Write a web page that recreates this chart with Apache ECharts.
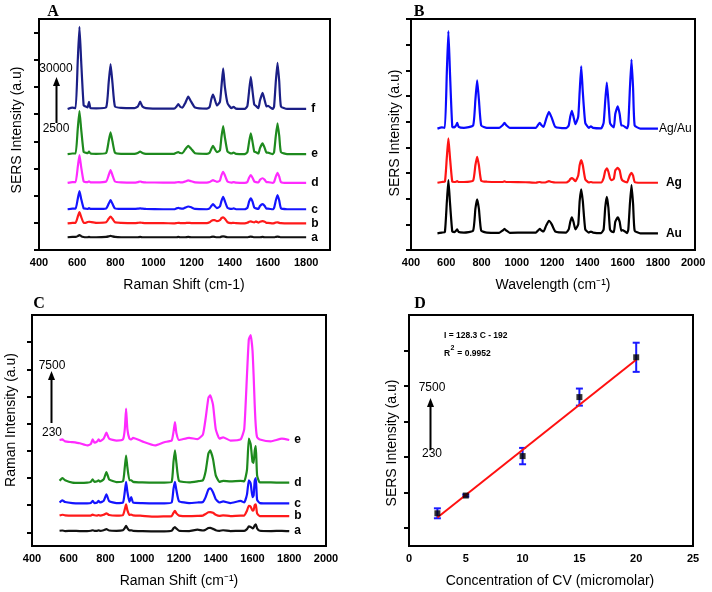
<!DOCTYPE html>
<html><head><meta charset="utf-8">
<script src="https://cdn.jsdelivr.net/npm/echarts@6/dist/echarts.min.js"></script>
<style>html,body{margin:0;padding:0;background:#fff}#c{width:712px;height:592px}</style>
</head><body><div id="c"></div>
<script>
// ---------- Panel A / B shared Raman shift grid (cm-1) ----------
const shiftAB = [550,575,592,603,612,621,634,645,655,662,670,700,752,765,775,785,798,830,900,918,930,942,960,1050,1108,1120,1130,1140,1152,1166,1182,1198,1218,1280,1294,1303,1312,1321,1332,1348,1356,1365,1374,1388,1408,1420,1432,1478,1492,1501,1510,1519,1528,1537,1550,1558,1572,1583,1592,1600,1625,1632,1641,1650,1659,1668,1700,1800];

// Panel A spectra (offset intensity units)
const specA_f = [5.19,5.24,5.22,6.95,8.21,6.95,5.32,5.28,5.25,5.45,5.22,5.21,5.25,6.15,6.84,6.15,5.28,5.23,5.22,5.28,5.46,5.28,5.22,5.2,5.2,5.27,5.37,5.27,5.24,5.4,5.64,5.45,5.24,5.2,5.26,5.55,5.72,5.55,5.32,5.45,6.0,6.68,6.0,5.4,5.22,5.27,5.2,5.19,5.3,5.85,6.37,5.85,5.35,5.3,5.22,5.5,5.78,5.5,5.28,5.3,5.19,5.28,6.2,6.89,6.2,5.28,5.19,5.19];
const specA_e = [3.53,3.55,3.55,4.45,5.11,4.45,3.6,3.58,3.56,3.62,3.55,3.54,3.57,4.0,4.33,4.0,3.58,3.54,3.54,3.57,3.62,3.57,3.54,3.54,3.54,3.58,3.6,3.57,3.56,3.7,3.83,3.72,3.56,3.54,3.58,3.72,3.83,3.72,3.6,3.66,4.15,4.56,4.15,3.62,3.55,3.58,3.54,3.53,3.6,3.98,4.29,3.98,3.62,3.6,3.55,3.75,3.92,3.75,3.58,3.58,3.53,3.6,4.2,4.66,4.2,3.6,3.53,3.53];
const specA_d = [2.47,2.5,2.5,3.05,3.49,3.05,2.52,2.5,2.5,2.53,2.49,2.49,2.52,2.75,2.94,2.75,2.52,2.49,2.48,2.5,2.52,2.5,2.49,2.48,2.48,2.49,2.5,2.49,2.49,2.52,2.56,2.53,2.49,2.48,2.5,2.54,2.57,2.54,2.51,2.55,2.75,2.88,2.75,2.52,2.48,2.5,2.48,2.47,2.5,2.66,2.76,2.66,2.52,2.5,2.49,2.58,2.64,2.58,2.5,2.5,2.47,2.5,2.7,2.84,2.7,2.5,2.47,2.47];
const specA_c = [1.5,1.52,1.52,1.88,2.17,1.88,1.53,1.52,1.51,1.54,1.51,1.51,1.53,1.7,1.84,1.7,1.53,1.51,1.51,1.52,1.53,1.52,1.51,1.5,1.5,1.53,1.55,1.53,1.52,1.56,1.6,1.57,1.51,1.5,1.53,1.62,1.69,1.62,1.54,1.6,1.8,1.96,1.8,1.55,1.51,1.53,1.5,1.5,1.55,1.78,1.9,1.78,1.56,1.53,1.51,1.62,1.69,1.62,1.52,1.52,1.5,1.55,1.82,2.02,1.82,1.54,1.5,1.5];
const specA_b = [0.98,1.0,1.0,1.22,1.39,1.22,1.0,1.0,1.03,1.04,1.03,1.0,1.02,1.15,1.23,1.15,1.02,1.0,0.99,1.0,1.01,1.0,0.99,0.99,0.98,0.99,1.0,0.99,0.99,0.99,1.0,0.99,0.99,0.99,1.02,1.07,1.1,1.1,1.06,1.1,1.17,1.2,1.15,1.02,0.99,1.0,0.99,0.98,1.0,1.04,1.05,1.03,1.02,1.05,1.01,1.04,1.06,1.04,1.0,1.0,0.98,0.99,1.01,1.02,1.0,0.99,0.98,0.98];
const specA_a = [0.47,0.48,0.48,0.51,0.55,0.51,0.48,0.47,0.47,0.48,0.47,0.47,0.48,0.5,0.52,0.5,0.48,0.47,0.47,0.47,0.48,0.47,0.47,0.47,0.47,0.47,0.48,0.47,0.47,0.47,0.48,0.47,0.47,0.47,0.47,0.48,0.49,0.48,0.47,0.47,0.49,0.5,0.49,0.47,0.47,0.47,0.47,0.47,0.47,0.48,0.49,0.48,0.47,0.47,0.47,0.47,0.48,0.47,0.47,0.47,0.47,0.47,0.48,0.49,0.48,0.47,0.47,0.47];

// Panel B spectra
const specB_AgAu = [4.73,4.78,4.76,6.9,8.53,6.9,4.8,4.78,4.85,4.95,4.8,4.76,4.85,5.85,6.61,5.85,4.85,4.76,4.76,4.85,4.95,4.85,4.76,4.76,4.76,4.87,4.95,4.86,4.8,5.1,5.38,5.15,4.8,4.75,4.85,5.2,5.42,5.2,4.9,5.2,6.15,7.16,6.15,4.95,4.76,4.82,4.76,4.74,4.95,5.8,6.52,5.8,4.95,4.85,4.78,5.3,5.6,5.3,4.85,4.85,4.74,4.9,6.3,7.42,6.3,4.85,4.73,4.73];
const specB_Ag = [2.62,2.65,2.66,3.6,4.35,3.6,2.66,2.65,2.66,2.68,2.65,2.65,2.7,3.3,3.63,3.3,2.7,2.66,2.65,2.65,2.67,2.65,2.65,2.64,2.62,2.64,2.65,2.63,2.63,2.64,2.68,2.65,2.63,2.63,2.68,2.76,2.8,2.76,2.68,2.9,3.3,3.5,3.3,2.75,2.63,2.65,2.63,2.63,2.8,3.08,3.18,3.05,2.8,2.72,2.78,3.1,3.2,3.1,2.8,2.7,2.63,2.75,2.92,3.01,2.9,2.65,2.62,2.62];
const specB_Au = [0.65,0.68,0.7,1.85,2.72,1.85,0.72,0.7,0.75,0.8,0.7,0.68,0.75,1.6,1.97,1.6,0.75,0.68,0.67,0.75,0.82,0.75,0.67,0.68,0.68,0.76,0.82,0.76,0.72,0.95,1.14,1.0,0.72,0.68,0.8,1.1,1.27,1.1,0.8,1.0,1.9,2.36,1.9,0.8,0.68,0.72,0.68,0.66,0.8,1.65,2.07,1.65,0.8,0.72,0.7,1.1,1.27,1.1,0.75,0.78,0.66,0.8,1.8,2.53,1.8,0.75,0.65,0.65];

// ---------- Panel C ----------
const shiftC = [550,565,580,620,660,700,720,730,740,755,762,770,790,805,820,860,895,905,912,919,930,940,950,1000,1070,1120,1160,1170,1178,1186,1200,1255,1300,1330,1345,1360,1370,1385,1400,1420,1440,1480,1535,1555,1570,1580,1590,1600,1606,1612,1618,1625,1640,1700,1760,1800];
const specC_e = [3.9,3.92,3.85,3.82,3.78,3.7,3.75,3.92,3.8,3.85,3.92,3.86,3.95,4.17,3.95,3.88,3.92,4.3,5.06,4.3,3.95,3.92,3.98,3.85,3.7,3.82,3.88,4.2,4.56,4.15,3.9,3.98,3.93,4.1,4.7,5.45,5.54,5.2,4.3,3.95,4.0,3.88,3.92,4.3,6.3,7.6,7.76,7.2,6.3,5.2,4.4,4.0,3.92,3.85,3.95,3.9];
const specC_d = [2.4,2.5,2.42,2.33,2.32,2.33,2.36,2.45,2.36,2.38,2.42,2.37,2.45,2.72,2.45,2.35,2.38,2.9,3.33,2.9,2.42,2.42,2.36,2.34,2.33,2.33,2.36,3.1,3.52,3.05,2.4,2.34,2.38,2.42,2.75,3.4,3.52,3.2,2.6,2.36,2.4,2.38,2.4,2.38,2.8,3.95,3.75,3.1,3.06,3.5,3.68,2.6,2.34,2.34,2.33,2.33];
const specC_c = [1.6,1.68,1.62,1.58,1.57,1.57,1.58,1.66,1.58,1.6,1.66,1.6,1.66,1.9,1.65,1.58,1.6,2.0,2.36,2.0,1.62,1.8,1.6,1.58,1.57,1.57,1.6,2.1,2.36,2.05,1.65,1.58,1.6,1.62,1.8,2.08,2.12,1.98,1.72,1.6,1.64,1.58,1.66,1.6,1.9,2.42,2.3,1.8,1.85,2.4,2.5,1.7,1.58,1.57,1.57,1.57];
const specC_b = [1.12,1.15,1.13,1.12,1.12,1.12,1.12,1.16,1.13,1.12,1.14,1.12,1.15,1.2,1.14,1.12,1.14,1.35,1.53,1.32,1.14,1.16,1.13,1.11,1.08,1.09,1.1,1.22,1.29,1.2,1.12,1.1,1.11,1.12,1.18,1.24,1.25,1.22,1.15,1.11,1.13,1.1,1.12,1.12,1.3,1.48,1.45,1.3,1.32,1.5,1.53,1.2,1.1,1.1,1.1,1.1];
const specC_a = [0.56,0.57,0.55,0.56,0.55,0.55,0.56,0.58,0.56,0.56,0.58,0.56,0.58,0.62,0.57,0.56,0.58,0.66,0.74,0.66,0.57,0.58,0.56,0.55,0.54,0.54,0.56,0.65,0.7,0.64,0.56,0.55,0.6,0.57,0.6,0.66,0.67,0.63,0.58,0.56,0.58,0.55,0.56,0.56,0.62,0.72,0.7,0.65,0.68,0.76,0.8,0.65,0.56,0.55,0.56,0.55];

// ---------- Panel D ----------
const concCV = [2.5, 5, 10, 15, 20];
const sersD = [0.92, 1.42, 2.53, 4.19, 5.31];
const errD = [0.14, 0.03, 0.23, 0.24, 0.41];
const fitC = [2.5, 20];
const fitI = [0.80, 5.24];

// tick values
const ticksXA = [400,600,800,1000,1200,1400,1600,1800];
const ticksXB = [400,600,800,1000,1200,1400,1600,1800,2000];
const ticksXD = [0,5,10,15,20,25];
const ticksYA = [0,1,2,3,4,5,6,7,8];
const ticksYB = [0,1,2,3,4,5,6,7,8,9];
const ticksYC = [0.5,1.5,2.5,3.5,4.5,5.5,6.5,7.5];
const ticksYD = [0.5,1.5,2.5,3.5,4.5,5.5];

const FONT = '"Liberation Sans", Arial, sans-serif';
const pair = (xs, ys) => xs.map((x, i) => [x, ys[i]]);

function xAxisCfg(gi, min, max, ticks) {
  return {
    type: 'value', gridIndex: gi, min, max, interval: ticks[1]-ticks[0],
    splitLine: {show: false},
    axisLine: {show: true, onZero: false, lineStyle: {color: '#000', width: 2}},
    axisTick: {show: false},
    axisLabel: {customValues: ticks, formatter: v => String(v), color: '#000', fontWeight: 'bold', fontSize: 11, fontFamily: FONT, margin: 7}
  };
}
function yAxisCfg(gi, min, max, ticks) {
  return {
    type: 'value', gridIndex: gi, min, max,
    splitLine: {show: false},
    axisLine: {show: true, onZero: false, lineStyle: {color: '#000', width: 2}},
    axisTick: {show: true, customValues: ticks, inside: false, length: 5, lineStyle: {color: '#000', width: 2}},
    axisLabel: {show: false}
  };
}
function spec(gi, xs, ys, color, label, lblStyle) {
  return {
    type: 'line', xAxisIndex: gi, yAxisIndex: gi, data: pair(xs, ys),
    showSymbol: false, symbol: 'none', smooth: 0.15, animation: false,
    lineStyle: {color, width: 2.2}, itemStyle: {color},
    endLabel: Object.assign({show: true, formatter: label, color: '#000', fontFamily: FONT, fontSize: 12, fontWeight: 'bold', distance: 5}, lblStyle || {})
  };
}

const grids = [
  {left: 39, top: 19, width: 291, height: 231},
  {left: 411, top: 19, width: 284, height: 231},
  {left: 32, top: 315, width: 294, height: 231},
  {left: 409, top: 315, width: 284, height: 231}
].map(g => Object.assign(g, {show: true, borderColor: '#000', borderWidth: 2, containLabel: false}));

const series = [
  spec(0, shiftAB, specA_f, '#1b1f86', 'f'),
  spec(0, shiftAB, specA_e, '#1e8a1e', 'e'),
  spec(0, shiftAB, specA_d, '#ff2bff', 'd'),
  spec(0, shiftAB, specA_c, '#1414ff', 'c'),
  spec(0, shiftAB, specA_b, '#ff1a1a', 'b'),
  spec(0, shiftAB, specA_a, '#111111', 'a'),
  spec(1, shiftAB, specB_AgAu, '#0a0aff', 'Ag/Au', {fontWeight: 'normal', distance: 1}),
  spec(1, shiftAB, specB_Ag, '#ff1414', 'Ag', {distance: 8}),
  spec(1, shiftAB, specB_Au, '#000000', 'Au', {distance: 8}),
  spec(2, shiftC, specC_e, '#ff2bff', 'e'),
  spec(2, shiftC, specC_d, '#1e8a1e', 'd'),
  spec(2, shiftC, specC_c, '#1414ff', 'c'),
  spec(2, shiftC, specC_b, '#ff1a1a', 'b'),
  spec(2, shiftC, specC_a, '#111111', 'a'),
  {
    type: 'line', xAxisIndex: 3, yAxisIndex: 3, data: pair(fitC, fitI),
    showSymbol: false, symbol: 'none', animation: false,
    lineStyle: {color: '#ff1010', width: 2}
  },
  {
    type: 'custom', xAxisIndex: 3, yAxisIndex: 3, animation: false,
    data: concCV.map((c, i) => [c, sersD[i], errD[i]]),
    renderItem: function (params, api) {
      const x = api.value(0), y = api.value(1), e = api.value(2);
      const top = api.coord([x, y + e]);
      const bot = api.coord([x, y - e]);
      const hw = 3.5;
      const st = {stroke: '#1a1aff', lineWidth: 2};
      return {type: 'group', children: [
        {type: 'line', shape: {x1: top[0], y1: top[1], x2: bot[0], y2: bot[1]}, style: st},
        {type: 'line', shape: {x1: top[0]-hw, y1: top[1], x2: top[0]+hw, y2: top[1]}, style: st},
        {type: 'line', shape: {x1: bot[0]-hw, y1: bot[1], x2: bot[0]+hw, y2: bot[1]}, style: st}
      ]};
    },
    z: 3
  },
  {
    type: 'scatter', xAxisIndex: 3, yAxisIndex: 3, animation: false,
    data: pair(concCV, sersD), symbol: 'rect', symbolSize: 6,
    itemStyle: {color: '#000'}, z: 4
  }
];

function txt(x, y, text, opts) {
  return {type: 'text', x, y, silent: true, rotation: (opts && opts.rot) || 0,
    style: Object.assign({text, align: 'center', verticalAlign: 'middle', fill: '#000', font: '14px ' + FONT}, (opts && opts.style) || {})};
}
function arrow(x, yTop, yBot) {
  return [
    {type: 'line', shape: {x1: x, y1: yBot, x2: x, y2: yTop + 6}, style: {stroke: '#000', lineWidth: 2}},
    {type: 'polygon', shape: {points: [[x, yTop], [x - 3.5, yTop + 9], [x + 3.5, yTop + 9]]}, style: {fill: '#000'}}
  ];
}
const SERIF = '"Liberation Serif", "Times New Roman", serif';
const graphics = [
  txt(53, 12, 'A', {style: {font: 'bold 16px ' + SERIF}}),
  txt(419, 12, 'B', {style: {font: 'bold 16px ' + SERIF}}),
  txt(39, 304, 'C', {style: {font: 'bold 16px ' + SERIF}}),
  txt(420, 304, 'D', {style: {font: 'bold 16px ' + SERIF}}),
  txt(17, 130, 'SERS Intensity (a.u)', {rot: Math.PI / 2}),
  txt(184, 285, 'Raman Shift (cm-1)'),
  txt(395, 133, 'SERS Intensity (a.u)', {rot: Math.PI / 2}),
  txt(553, 285, 'Wavelength (cm⁻¹)'),
  txt(11, 420, 'Raman Intensity (a.u)', {rot: Math.PI / 2}),
  txt(179, 581, 'Raman Shift (cm⁻¹)'),
  txt(392, 443, 'SERS Intensity (a.u)', {rot: Math.PI / 2}),
  txt(550, 581, 'Concentration of CV (micromolar)'),
  txt(56, 69, '30000', {style: {font: '12px ' + FONT}}),
  txt(56, 129, '2500', {style: {font: '12px ' + FONT}}),
  ...arrow(56.5, 77, 123),
  txt(52, 366, '7500', {style: {font: '12px ' + FONT}}),
  txt(52, 433, '230', {style: {font: '12px ' + FONT}}),
  ...arrow(51.5, 371, 423),
  txt(432, 388, '7500', {style: {font: '12px ' + FONT}}),
  txt(432, 454, '230', {style: {font: '12px ' + FONT}}),
  ...arrow(430.5, 398, 450),
  {type: 'text', x: 444, y: 336, silent: true, style: {text: 'I = 128.3 C - 192', verticalAlign: 'middle', fill: '#000', font: 'bold 8.5px ' + FONT}},
  {type: 'text', x: 444, y: 354, silent: true, style: {text: 'R', verticalAlign: 'middle', fill: '#000', font: 'bold 8.5px ' + FONT}},
  {type: 'text', x: 450.5, y: 348, silent: true, style: {text: '2', verticalAlign: 'middle', fill: '#000', font: 'bold 7px ' + FONT}},
  {type: 'text', x: 455, y: 354, silent: true, style: {text: ' = 0.9952', verticalAlign: 'middle', fill: '#000', font: 'bold 8.5px ' + FONT}}
];

const chart = echarts.init(document.getElementById('c'), null, {renderer: 'canvas'});
chart.setOption({
  animation: false,
  backgroundColor: '#fff',
  grid: grids,
  xAxis: [
    xAxisCfg(0, 400, 1925, ticksXA),
    xAxisCfg(1, 400, 2010, ticksXB),
    xAxisCfg(2, 400, 2000, ticksXB),
    xAxisCfg(3, 0, 25, ticksXD)
  ],
  yAxis: [
    yAxisCfg(0, 0, 8.5, ticksYA),
    yAxisCfg(1, 0, 9, ticksYB),
    yAxisCfg(2, 0, 8.5, ticksYC),
    yAxisCfg(3, 0, 6.5, ticksYD)
  ],
  series,
  graphic: graphics
});
</script></body></html>
